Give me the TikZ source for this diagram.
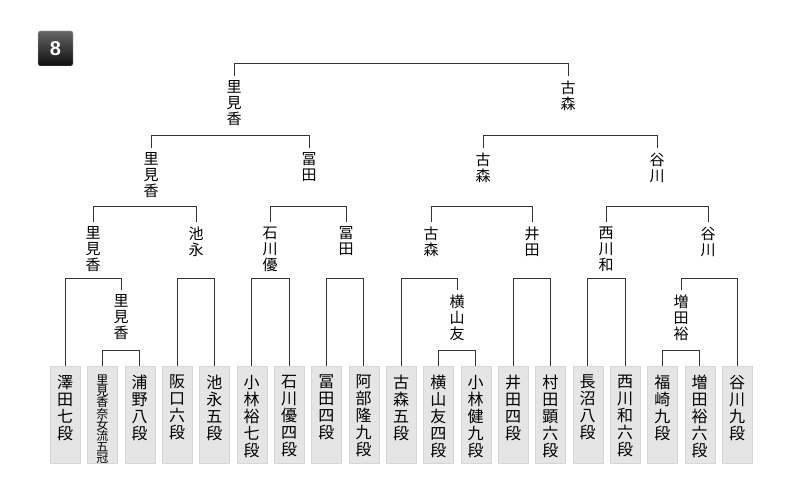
\documentclass[tikz,border=0pt]{standalone}
\usepackage{fontspec}
\setmainfont{Liberation Sans}
\newfontfamily\jp{Noto Sans CJK JP}
\usetikzlibrary{positioning}

\newcommand{\pbox}[3]{\parbox[t][97pt][t]{30pt}{\vspace*{9pt}\centering\jp\fontsize{#1}{#2}\selectfont #3}}

\tikzset{
  player/.style={draw=black!16,fill=black!10,inner sep=0pt,outer sep=0pt,anchor=north},
  winner/.style={inner sep=0pt,outer sep=5pt,anchor=north,align=center,font=\jp\fontsize{15}{16}\selectfont},
  bracket/.style={draw=black!80,line width=1pt},
  badge/.style={minimum size=35pt,inner sep=0pt,top color=black!60,bottom color=black!95,draw=black!25,rounded corners=1.5pt,text=white,font=\bfseries\fontsize{20}{20}\selectfont}
}

\begin{document}
\begin{tikzpicture}[x=1pt,y=-1pt]
  \useasboundingbox (0,0) rectangle (795,502);

  \node (seed) [badge] at (55.5,48.5) {8};

  % bracket heights
  \coordinate (lv0) at (0,351);
  \coordinate (lv1) at (0,279);
  \coordinate (lv2) at (0,207);
  \coordinate (lv3) at (0,136);
  \coordinate (lv4) at (0,64);

  % players
  \node (sawada)     [player] at (65,366)    {\pbox{16}{17}{澤\\田\\七\\段}};
  \node (satomi)     [player] at (102.3,366) {\pbox{12}{11.2}{里\\見\\香\\奈\\女\\流\\五\\冠}};
  \node (urano)      [player] at (139.7,366) {\pbox{16}{17}{浦\\野\\八\\段}};
  \node (sakaguchi)  [player] at (177,366)   {\pbox{16}{17}{阪\\口\\六\\段}};
  \node (ikenaga)    [player] at (214.3,366) {\pbox{16}{17}{池\\永\\五\\段}};
  \node (kobayashiH) [player] at (251.7,366) {\pbox{16}{17}{小\\林\\裕\\七\\段}};
  \node (ishikawa)   [player] at (289,366)   {\pbox{16}{17}{石\\川\\優\\四\\段}};
  \node (tomita)     [player] at (326.3,366) {\pbox{16}{17}{冨\\田\\四\\段}};
  \node (abe)        [player] at (363.7,366) {\pbox{16}{17}{阿\\部\\隆\\九\\段}};
  \node (komori)     [player] at (401,366)   {\pbox{16}{17}{古\\森\\五\\段}};
  \node (yokoyama)   [player] at (438.3,366) {\pbox{16}{17}{横\\山\\友\\四\\段}};
  \node (kobayashiK) [player] at (475.7,366) {\pbox{16}{17}{小\\林\\健\\九\\段}};
  \node (ida)        [player] at (513,366)   {\pbox{16}{17}{井\\田\\四\\段}};
  \node (murata)     [player] at (550.3,366) {\pbox{16}{17}{村\\田\\顕\\六\\段}};
  \node (naganuma)   [player] at (587.7,366) {\pbox{16}{17}{長\\沼\\八\\段}};
  \node (nishikawa)  [player] at (625,366)   {\pbox{16}{17}{西\\川\\和\\六\\段}};
  \node (fukuzaki)   [player] at (662.3,366) {\pbox{16}{17}{福\\崎\\九\\段}};
  \node (masuda)     [player] at (699.7,366) {\pbox{16}{17}{増\\田\\裕\\六\\段}};
  \node (tanigawa)   [player] at (737,366)   {\pbox{16}{17}{谷\\川\\九\\段}};

  % winners
  \node (satomiA)    [winner] at (121,290) {里\\見\\香};
  \node (yokoyamaA)  [winner] at (457,290) {横\\山\\友};
  \node (masudaA)    [winner] at (681,290) {増\\田\\裕};

  \node (satomiB)    [winner] at (93,222)  {里\\見\\香};
  \node (ikenagaB)   [winner] at (196,222) {池\\永};
  \node (ishikawaB)  [winner] at (270,222) {石\\川\\優};
  \node (tomitaB)    [winner] at (346,222) {冨\\田};
  \node (komoriB)    [winner] at (431,222) {古\\森};
  \node (idaB)       [winner] at (532,222) {井\\田};
  \node (nishikawaB) [winner] at (606,222) {西\\川\\和};
  \node (tanigawaB)  [winner] at (708,222) {谷\\川};

  \node (satomiC)    [winner] at (151,148) {里\\見\\香};
  \node (tomitaC)    [winner] at (309,148) {冨\\田};
  \node (komoriC)    [winner] at (483,148) {古\\森};
  \node (tanigawaC)  [winner] at (657,148) {谷\\川};

  \node (satomiD)    [winner] at (234,76) {里\\見\\香};
  \node (komoriD)    [winner] at (568,76) {古\\森};

  % brackets
  \draw[bracket] (satomi.north) |- (lv0 -| urano.north) -- (urano.north);
  \draw[bracket] (yokoyama.north) |- (lv0 -| kobayashiK.north) -- (kobayashiK.north);
  \draw[bracket] (fukuzaki.north) |- (lv0 -| masuda.north) -- (masuda.north);

  \draw[bracket] (sawada.north) |- (lv1 -| satomiA.north) -- (satomiA.north);
  \draw[bracket] (sakaguchi.north) |- (lv1 -| ikenaga.north) -- (ikenaga.north);
  \draw[bracket] (kobayashiH.north) |- (lv1 -| ishikawa.north) -- (ishikawa.north);
  \draw[bracket] (tomita.north) |- (lv1 -| abe.north) -- (abe.north);
  \draw[bracket] (komori.north) |- (lv1 -| yokoyamaA.north) -- (yokoyamaA.north);
  \draw[bracket] (ida.north) |- (lv1 -| murata.north) -- (murata.north);
  \draw[bracket] (naganuma.north) |- (lv1 -| nishikawa.north) -- (nishikawa.north);
  \draw[bracket] (masudaA.north) |- (lv1 -| tanigawa.north) -- (tanigawa.north);

  \draw[bracket] (satomiB.north) |- (lv2 -| ikenagaB.north) -- (ikenagaB.north);
  \draw[bracket] (ishikawaB.north) |- (lv2 -| tomitaB.north) -- (tomitaB.north);
  \draw[bracket] (komoriB.north) |- (lv2 -| idaB.north) -- (idaB.north);
  \draw[bracket] (nishikawaB.north) |- (lv2 -| tanigawaB.north) -- (tanigawaB.north);

  \draw[bracket] (satomiC.north) |- (lv3 -| tomitaC.north) -- (tomitaC.north);
  \draw[bracket] (komoriC.north) |- (lv3 -| tanigawaC.north) -- (tanigawaC.north);

  \draw[bracket] (satomiD.north) |- (lv4 -| komoriD.north) -- (komoriD.north);

\end{tikzpicture}
\end{document}
